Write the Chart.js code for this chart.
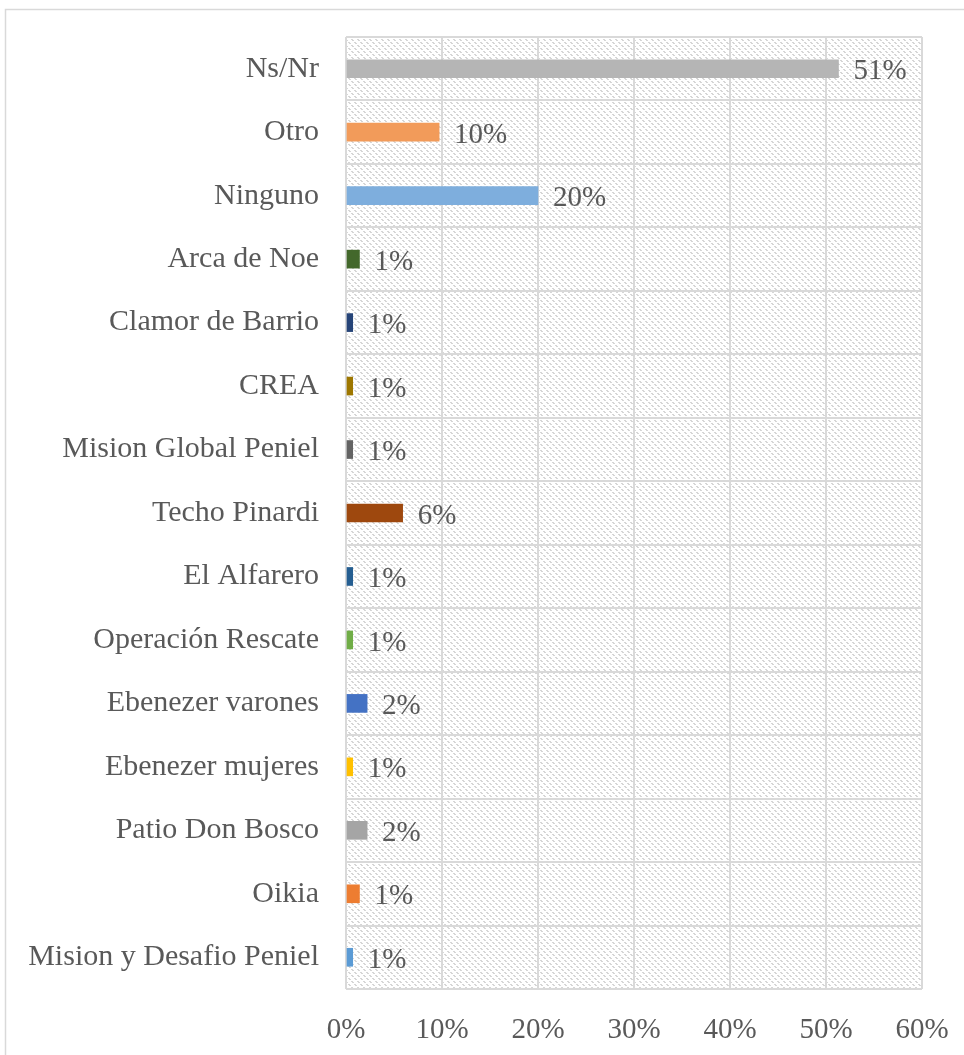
<!DOCTYPE html>
<html>
<head>
<meta charset="utf-8">
<script src="https://cdn.jsdelivr.net/npm/chart.js@4.4.1/dist/chart.umd.min.js"></script>
<style>
  html, body { margin: 0; padding: 0; background: #ffffff; }
  #wrap { position: absolute; left: 0; top: 0; width: 964px; height: 1055px; }
</style>
</head>
<body>
<div id="wrap"><canvas id="c" width="964" height="1055"></canvas></div>
<script>
const categories = [
  "Ns/Nr", "Otro", "Ninguno", "Arca de Noe", "Clamor de Barrio", "CREA",
  "Mision Global Peniel", "Techo Pinardi", "El Alfarero", "Operación Rescate",
  "Ebenezer varones", "Ebenezer mujeres", "Patio Don Bosco", "Oikia",
  "Mision y Desafio Peniel"
];
const values = [51.3, 9.7, 20.0, 1.4, 0.7, 0.7, 0.7, 5.9, 0.7, 0.7, 2.2, 0.7, 2.2, 1.4, 0.7];
const valueLabels = ["51%", "10%", "20%", "1%", "1%", "1%", "1%", "6%", "1%", "1%", "2%", "1%", "2%", "1%", "1%"];
const barColors = [
  "#b5b5b5", "#f29b5a", "#7eaedd", "#43682b", "#264478", "#9e7700",
  "#636363", "#9e480e", "#255e91", "#70ad47", "#4472c4", "#ffc000",
  "#a5a5a5", "#ed7d31", "#5b9bd5"
];
const xTicks = [0, 10, 20, 30, 40, 50, 60];

const FONT = "'Liberation Serif', 'DejaVu Serif', serif";
const TEXT = "#595959";

function makePattern() {
  const t = document.createElement('canvas');
  t.width = 6; t.height = 6;
  const g = t.getContext('2d');
  g.fillStyle = '#ffffff';
  g.fillRect(0, 0, 6, 6);
  g.fillStyle = '#d6d6d6';
  for (let y = 0; y < 6; y++) {
    if (y % 3 === 2) continue;
    g.fillRect(y % 6, y, 1, 1);
    g.fillRect((y + 1) % 6, y, 1, 1);
  }
  return document.getElementById('c').getContext('2d').createPattern(t, 'repeat');
}

const bgPlugin = {
  id: 'bg',
  beforeDraw(chart) {
    const ctx = chart.ctx;
    ctx.save();
    ctx.strokeStyle = '#d9d9d9';
    ctx.lineWidth = 1.5;
    ctx.strokeRect(5.5, 9.5, 1100, 1200);
    const a = chart.chartArea;
    ctx.fillStyle = makePattern();
    ctx.fillRect(a.left, a.top, a.right - a.left, a.bottom - a.top);
    ctx.restore();
  }
};

const labelPlugin = {
  id: 'vlabels',
  afterDatasetsDraw(chart) {
    const ctx = chart.ctx;
    const meta = chart.getDatasetMeta(0);
    ctx.save();
    ctx.font = "29px " + FONT;
    ctx.fillStyle = TEXT;
    ctx.textAlign = 'left';
    ctx.textBaseline = 'middle';
    meta.data.forEach((bar, i) => {
      ctx.fillText(valueLabels[i], bar.x + 15, bar.y + 3);
    });
    ctx.restore();
  }
};

new Chart(document.getElementById('c'), {
  type: 'bar',
  data: {
    labels: categories,
    datasets: [{
      data: values,
      backgroundColor: barColors,
      borderWidth: 0,
      barThickness: 18
    }]
  },
  options: {
    indexAxis: 'y',
    responsive: false,
    animation: false,
    layout: { padding: { top: 37, right: 42, left: 0, bottom: 0 } },
    plugins: { legend: { display: false }, tooltip: { enabled: false } },
    scales: {
      x: {
        min: 0, max: 60,
        afterBuildTicks(scale) { scale.ticks = xTicks.map(v => ({ value: v })); },
        afterFit(scale) {
          scale.height = 66;
          scale.paddingLeft = 0; scale.paddingRight = 0;
          scale.paddingTop = 0; scale.paddingBottom = 0;
        },
        grid: { color: '#d9d9d9', lineWidth: 2, drawTicks: false },
        border: { display: false },
        ticks: {
          padding: 24,
          color: TEXT,
          font: { family: FONT, size: 29 },
          callback: (v) => v + '%'
        }
      },
      y: {
        afterFit(scale) {
          scale.width = 346;
          scale.paddingLeft = 0; scale.paddingRight = 0;
          scale.paddingTop = 0; scale.paddingBottom = 0;
        },
        grid: { color: '#d9d9d9', lineWidth: 2, drawTicks: false, offset: true },
        border: { display: false },
        ticks: {
          padding: 27,
          color: TEXT,
          font: { family: FONT, size: 30 }
        }
      }
    }
  },
  plugins: [bgPlugin, labelPlugin]
});
</script>
</body>
</html>
